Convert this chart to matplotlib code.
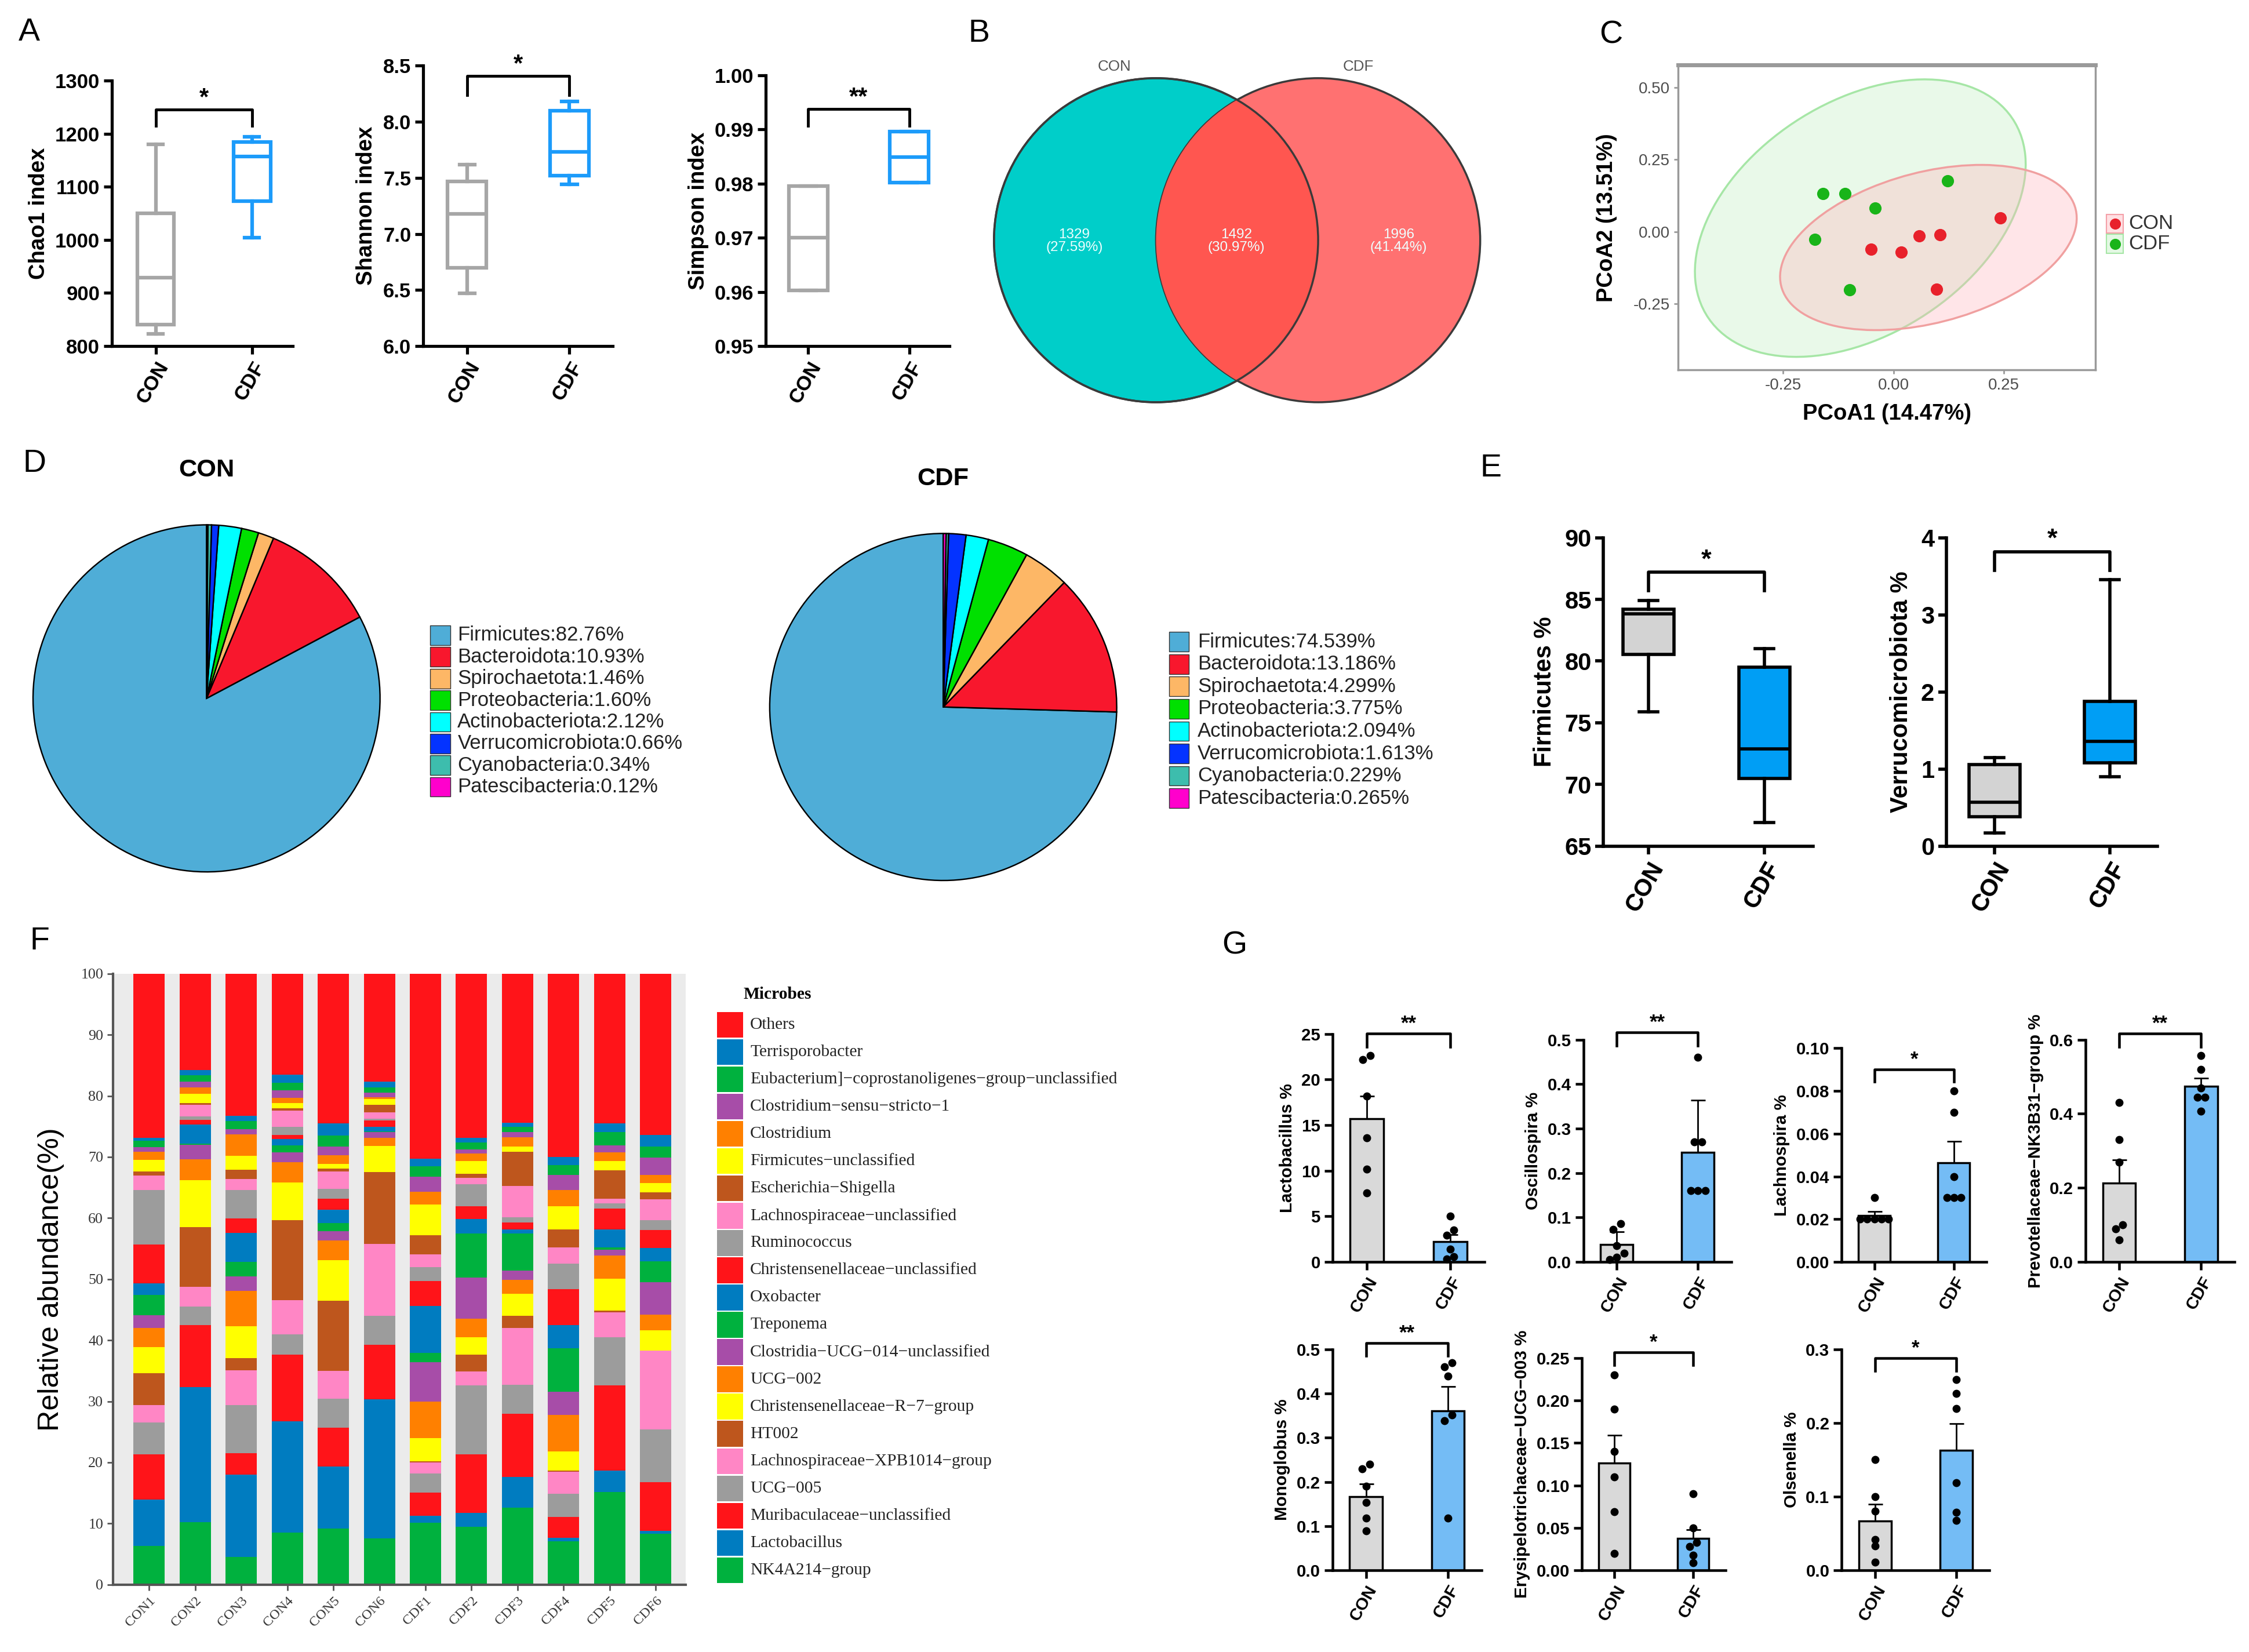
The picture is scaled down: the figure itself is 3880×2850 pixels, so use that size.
import matplotlib
matplotlib.use('Agg')
import matplotlib.pyplot as plt
import numpy as np
from matplotlib import font_manager
from matplotlib.patches import Circle, Ellipse, Rectangle

names = {f.name for f in font_manager.fontManager.ttflist}
SANS = 'Liberation Sans' if 'Liberation Sans' in names else 'DejaVu Sans'
NARROW = 'Liberation Sans Narrow' if 'Liberation Sans Narrow' in names else SANS
SERIF = 'Liberation Serif' if 'Liberation Serif' in names else 'DejaVu Serif'
plt.rcParams['font.family'] = SANS
plt.rcParams['axes.unicode_minus'] = False

# ---------------- data ----------------
groups = ['CON', 'CDF']

# A: box stats (whisker low, q1, median, q3, whisker high)
chao1_stats = [[823, 840, 929, 1050, 1180], [1004, 1073, 1157, 1185, 1194]]
shannon_stats = [[6.47, 6.70, 7.18, 7.47, 7.62], [7.44, 7.52, 7.73, 8.10, 8.18]]
simpson_stats = [[0.9603, 0.9603, 0.9700, 0.9795, 0.9795], [0.9802, 0.9802, 0.9849, 0.9896, 0.9896]]
chao1_ticks = [800, 900, 1000, 1100, 1200, 1300]
shannon_ticks = [6.0, 6.5, 7.0, 7.5, 8.0, 8.5]
simpson_ticks = [0.95, 0.96, 0.97, 0.98, 0.99, 1.00]

# B: Venn
venn_counts = [1329, 1492, 1996]
venn_pct = [27.59, 30.97, 41.44]

# C: PCoA
pcoa_con_x = [0.242, 0.058, 0.105, -0.051, 0.017, 0.097]
pcoa_con_y = [0.047, -0.014, -0.010, -0.061, -0.071, -0.199]
pcoa_cdf_x = [-0.159, -0.109, -0.041, 0.122, -0.178, -0.099]
pcoa_cdf_y = [0.133, 0.133, 0.081, 0.176, -0.027, -0.201]
ell_con = (0.079, -0.055, 0.734, 0.490, 33.0)     # centre x, centre y, width, height, angle
ell_cdf = (-0.075, 0.047, 1.038, 0.640, 61.7)

# D: phylum pies
phyla = ['Firmicutes', 'Bacteroidota', 'Spirochaetota', 'Proteobacteria',
         'Actinobacteriota', 'Verrucomicrobiota', 'Cyanobacteria', 'Patescibacteria']
pie_con = [82.76, 10.93, 1.46, 1.60, 2.12, 0.66, 0.34, 0.12]
pie_cdf = [74.539, 13.186, 4.299, 3.775, 2.094, 1.613, 0.229, 0.265]
pie_colors = ['#4FADD7', '#F8172D', '#FDB766', '#00E000', '#00FFFF', '#0433FF', '#3DBDAD', '#FF00CC']

# E: box stats
firm_stats = [[75.9, 80.55, 83.83, 84.2, 84.9], [66.9, 70.5, 72.9, 79.5, 81.0]]
verru_stats = [[0.17, 0.38, 0.57, 1.06, 1.15], [0.90, 1.08, 1.36, 1.88, 3.46]]
firm_ticks = [65, 70, 75, 80, 85, 90]
verru_ticks = [0, 1, 2, 3, 4]

# F: stacked genera, cumulative tops per sample (bottom taxon first)
samples = ['CON1', 'CON2', 'CON3', 'CON4', 'CON5', 'CON6',
           'CDF1', 'CDF2', 'CDF3', 'CDF4', 'CDF5', 'CDF6']
taxa = ['NK4A214−group', 'Lactobacillus', 'Muribaculaceae−unclassified', 'UCG−005',
        'Lachnospiraceae−XPB1014−group', 'HT002', 'Christensenellaceae−R−7−group', 'UCG−002',
        'Clostridia−UCG−014−unclassified', 'Treponema', 'Oxobacter',
        'Christensenellaceae−unclassified', 'Ruminococcus', 'Lachnospiraceae−unclassified',
        'Escherichia−Shigella', 'Firmicutes−unclassified', 'Clostridium',
        'Clostridium−sensu−stricto−1', 'Eubacterium]−coprostanoligenes−group−unclassified',
        'Terrisporobacter', 'Others']
stack_tops = [
    [6.3, 13.9, 21.3, 26.5, 29.4, 34.6, 38.9, 42.0, 44.1, 47.4, 49.3, 55.7, 64.6, 67.0, 67.6, 69.5, 70.9, 71.6, 72.7, 73.1, 100],
    [10.2, 32.3, 42.5, 45.5, 48.7, 58.5, 66.2, 69.6, 72.0, 72.2, 75.3, 76.1, 76.6, 78.5, 78.8, 80.3, 81.4, 82.3, 83.4, 84.2, 100],
    [4.5, 18.0, 21.5, 29.4, 35.1, 37.1, 42.3, 48.1, 50.5, 52.8, 57.6, 59.9, 64.6, 66.4, 67.9, 70.2, 73.7, 74.6, 75.9, 76.7, 100],
    [8.5, 26.7, 37.6, 41.0, 46.6, 59.7, 65.8, 69.1, 70.8, 71.9, 72.9, 73.6, 74.9, 77.6, 78.0, 78.8, 79.7, 80.9, 82.1, 83.5, 100],
    [9.2, 19.3, 25.7, 30.4, 35.0, 46.5, 53.1, 56.3, 57.9, 59.2, 61.4, 63.2, 64.8, 67.6, 68.1, 68.9, 70.3, 71.7, 73.5, 75.5, 100],
    [7.6, 30.3, 39.3, 44.0, 55.8, 67.5, 71.8, 73.1, 74.1, 74.2, 74.9, 76.0, 76.3, 77.3, 78.5, 79.5, 79.8, 80.5, 81.4, 82.3, 100],
    [10.1, 11.3, 15.1, 18.2, 20.0, 20.2, 24.0, 30.0, 36.4, 37.9, 45.6, 49.7, 52.0, 54.1, 57.2, 62.2, 64.3, 66.8, 68.5, 69.7, 100],
    [9.5, 11.7, 21.3, 32.6, 34.9, 37.6, 40.5, 43.5, 50.3, 57.5, 59.8, 61.9, 65.5, 66.6, 67.2, 69.3, 70.6, 71.2, 72.4, 73.1, 100],
    [12.6, 17.6, 28.0, 32.7, 42.0, 44.0, 47.6, 49.9, 51.4, 57.5, 58.1, 59.3, 60.1, 65.3, 70.9, 71.7, 73.2, 74.1, 74.9, 75.6, 100],
    [7.1, 7.7, 11.1, 14.9, 18.5, 18.7, 21.8, 27.8, 31.6, 38.7, 42.5, 48.4, 52.5, 55.2, 58.1, 61.9, 64.6, 67.1, 68.7, 70.0, 100],
    [15.2, 18.7, 32.6, 40.5, 44.6, 44.9, 50.1, 53.9, 54.8, 55.2, 58.1, 61.6, 62.4, 63.2, 67.8, 69.3, 70.8, 71.9, 74.1, 75.5, 100],
    [8.3, 8.8, 16.8, 25.4, 38.3, 38.3, 41.6, 44.2, 49.5, 52.9, 55.1, 58.0, 59.7, 63.1, 64.2, 65.7, 67.1, 69.9, 71.7, 73.6, 100],
]
f_colors = ['#00B13E', '#007CC0', '#FF1419', '#9C9C9C', '#FF86C5', '#BE561D', '#FFFF00', '#FF8000', '#A74DA8']
f_ticks = [0, 10, 20, 30, 40, 50, 60, 70, 80, 90, 100]

# G: genus bars (mean, sem) and individual points
lacto_mean, lacto_sem = [15.7, 2.26], [2.5, 0.74]
lacto_con = [22.2, 22.6, 18.2, 13.6, 10.2, 7.6]
lacto_cdf = [5.0, 3.5, 2.9, 1.4, 0.6, 0.3]
osc_mean, osc_sem = [0.039, 0.246], [0.029, 0.118]
osc_con = [0.086, 0.073, 0.037, 0.02, 0.01, 0.005]
osc_cdf = [0.46, 0.27, 0.27, 0.16, 0.16, 0.16]
lachno_mean, lachno_sem = [0.0216, 0.0465], [0.0021, 0.010]
lachno_con = [0.030, 0.020, 0.020, 0.020, 0.020, 0.020]
lachno_cdf = [0.080, 0.070, 0.040, 0.030, 0.030, 0.030]
prevo_mean, prevo_sem = [0.213, 0.474], [0.063, 0.022]
prevo_con = [0.43, 0.33, 0.27, 0.10, 0.09, 0.06]
prevo_cdf = [0.557, 0.519, 0.47, 0.445, 0.445, 0.407]
mono_mean, mono_sem = [0.166, 0.361], [0.029, 0.055]
mono_con = [0.23, 0.24, 0.19, 0.154, 0.118, 0.089]
mono_cdf = [0.461, 0.47, 0.44, 0.352, 0.339, 0.118]
erys_mean, erys_sem = [0.126, 0.0376], [0.033, 0.0104]
erys_con = [0.23, 0.19, 0.14, 0.11, 0.069, 0.02]
erys_cdf = [0.09, 0.05, 0.033, 0.028, 0.018, 0.009]
olsen_mean, olsen_sem = [0.067, 0.163], [0.0226, 0.036]
olsen_con = [0.15, 0.10, 0.08, 0.042, 0.033, 0.011]
olsen_cdf = [0.259, 0.24, 0.22, 0.119, 0.079, 0.068]

# ---------------- figure ----------------
W, H = 1568, 1152
fig = plt.figure(figsize=(15.52, 11.4), dpi=250)


def place(x0, y0, x1, y1):
    return fig.add_axes([x0 / W, 1 - y1 / H, (x1 - x0) / W, (y1 - y0) / H])


def prism(ax, ylim, yticks, fmt, xlim, fs=10, lw=1.5, xfs=10):
    ax.set_xlim(*xlim)
    ax.set_ylim(*ylim)
    for s in ('top', 'right'):
        ax.spines[s].set_visible(False)
    for s in ('left', 'bottom'):
        ax.spines[s].set_linewidth(lw)
    ax.set_yticks(yticks)
    ax.set_yticklabels([fmt % t for t in yticks], fontsize=fs, family=NARROW, fontweight='bold')
    ax.set_xticks([0, 1])
    ax.set_xticklabels(groups, rotation=60, ha='right', rotation_mode='anchor',
                       fontweight='bold', fontsize=xfs)
    ax.tick_params(width=lw, length=4, pad=2)
    ax.patch.set_alpha(0)


def boxes(ax, stats, edge, face, width, lw, capw):
    st = [dict(whislo=s[0], q1=s[1], med=s[2], q3=s[3], whishi=s[4]) for s in stats]
    art = ax.bxp(st, positions=[0, 1], widths=width, showfliers=False, patch_artist=True,
                 capwidths=capw, manage_ticks=False)
    for i in range(2):
        art['boxes'][i].set(facecolor=face[i], edgecolor=edge[i], linewidth=lw)
        art['medians'][i].set(color=edge[i], linewidth=lw)
        for j in (2 * i, 2 * i + 1):
            art['whiskers'][j].set(color=edge[i], linewidth=lw)
            art['caps'][j].set(color=edge[i], linewidth=lw)


def bracket(ax, y, yl, yr, label, fs=12, lw=1.4):
    ax.plot([0, 0, 1, 1], [yl, y, y, yr], color='k', lw=lw, clip_on=False)
    ax.text(0.5, y, label, ha='center', va='bottom', fontsize=fs, fontweight='bold', clip_on=False)


# ---- A
a_edge = ['#A6A6A6', '#1C9BFA']
axA1 = place(78, 56.3, 204, 241.3)
boxes(axA1, chao1_stats, a_edge, ['none', 'none'], 0.38, 1.8, 0.15)
prism(axA1, (800, 1300), chao1_ticks, '%d', (-0.455, 1.42))
axA1.set_ylabel('Chao1 index', fontsize=11, fontweight='bold', labelpad=3)
bracket(axA1, 1246, 1215, 1215, '*')

axA2 = place(295, 45.8, 427, 241.3)
boxes(axA2, shannon_stats, a_edge, ['none', 'none'], 0.38, 1.8, 0.15)
prism(axA2, (6.0, 8.5), shannon_ticks, '%.1f', (-0.43, 1.42))
axA2.set_ylabel('Shannon index', fontsize=11, fontweight='bold', labelpad=3)
bracket(axA2, 8.41, 8.24, 8.24, '*')

axA3 = place(534, 52.5, 662, 241.3)
boxes(axA3, simpson_stats, a_edge, ['none', 'none'], 0.38, 1.8, 0.15)
prism(axA3, (0.95, 1.0), simpson_ticks, '%.2f', (-0.42, 1.40))
axA3.set_ylabel('Simpson index', fontsize=11, fontweight='bold', labelpad=3)
bracket(axA3, 0.9938, 0.9907, 0.9907, '**')

# ---- B Venn
axB = place(680, 30, 1045, 300)
axB.set_xlim(680, 1045)
axB.set_ylim(300, 30)
axB.axis('off')
c_con = Circle((806, 167.5), 113, facecolor='#00CEC9', edgecolor='#3A3A3A', lw=1.0, zorder=1)
c_cdf = Circle((919, 167.5), 113, facecolor='#FF7171', edgecolor='#3A3A3A', lw=1.0, zorder=2)
axB.add_patch(c_con)
axB.add_patch(c_cdf)
c_mid = Circle((919, 167.5), 113, facecolor='#FF5650', edgecolor='none', zorder=3)
axB.add_patch(c_mid)
c_mid.set_clip_path(c_con)
c_line = Circle((806, 167.5), 113, facecolor='none', edgecolor='#3A3A3A', lw=1.0, zorder=4)
axB.add_patch(c_line)
for xx, n, p in zip([749, 862, 975], venn_counts, venn_pct):
    axB.text(xx, 168, f'{n}\n({p:.2f}%)', ha='center', va='center', fontsize=7,
             family=NARROW, color='#EFFFFF', linespacing=1.0, zorder=5)
axB.text(777, 46.5, 'CON', ha='center', va='center', fontsize=7.5, family=NARROW, color='#555555')
axB.text(947, 46.5, 'CDF', ha='center', va='center', fontsize=7.5, family=NARROW, color='#555555')

# ---- C PCoA
axC = place(1170, 45.4, 1461, 258)
axC.set_xlim(-0.487, 0.457)
axC.set_ylim(-0.480, 0.578)
ex, ey, ew, eh, ea = ell_cdf
axC.add_patch(Ellipse((ex, ey), ew, eh, angle=ea, facecolor='#9BE89B', alpha=0.22, edgecolor='none'))
axC.add_patch(Ellipse((ex, ey), ew, eh, angle=ea, facecolor='none', edgecolor='#A6E6A6', lw=1.0))
ex, ey, ew, eh, ea = ell_con
axC.add_patch(Ellipse((ex, ey), ew, eh, angle=ea, facecolor='#FFB3BA', alpha=0.33, edgecolor='none'))
axC.add_patch(Ellipse((ex, ey), ew, eh, angle=ea, facecolor='none', edgecolor='#F0A0A0', lw=1.0))
axC.scatter(pcoa_con_x, pcoa_con_y, s=26, color='#E8212B', zorder=3)
axC.scatter(pcoa_cdf_x, pcoa_cdf_y, s=26, color='#19B419', zorder=3)
for s in axC.spines.values():
    s.set_color('#9A9A9A')
    s.set_linewidth(1.0)
axC.spines['top'].set_linewidth(2.0)
axC.set_xticks([-0.25, 0.0, 0.25])
axC.set_xticklabels(['-0.25', '0.00', '0.25'], fontsize=8, family=NARROW, color='#4D4D4D')
axC.set_yticks([-0.25, 0.0, 0.25, 0.50])
axC.set_yticklabels(['-0.25', '0.00', '0.25', '0.50'], fontsize=8, family=NARROW, color='#4D4D4D')
axC.tick_params(length=2, color='#9A9A9A', pad=2)
axC.set_xlabel('PCoA1 (14.47%)', fontsize=11, fontweight='bold', labelpad=5)
axC.set_ylabel('PCoA2 (13.51%)', fontsize=11, fontweight='bold', labelpad=8)

# ---- D pies
r = 121 * 1.01
for cx, cy, vals in [(144, 487, pie_con), (657.6, 493, pie_cdf)]:
    ax = place(cx - r, cy - r, cx + r, cy + r)
    ax.pie(vals, colors=pie_colors, startangle=90, counterclock=True,
           wedgeprops=dict(edgecolor='k', linewidth=0.7))
    ax.set_xlim(-1.01, 1.01)
    ax.set_ylim(-1.01, 1.01)

# ---- E
e_edge = ['k', 'k']
e_face = ['#D3D3D3', '#009EF5']
axE1 = place(1118, 375, 1264, 590)
boxes(axE1, firm_stats, e_edge, e_face, 0.44, 1.6, 0.16)
prism(axE1, (65, 90), firm_ticks, '%d', (-0.385, 1.42), fs=12, lw=1.6, xfs=12)
axE1.set_ylabel('Firmicutes %', fontsize=12, fontweight='bold', labelpad=4)
bracket(axE1, 87.2, 85.7, 85.7, '*', fs=13, lw=1.6)

axE2 = place(1357, 375, 1504, 590)
boxes(axE2, verru_stats, e_edge, e_face, 0.44, 1.6, 0.16)
prism(axE2, (0, 4), verru_ticks, '%d', (-0.416, 1.41), fs=12, lw=1.6, xfs=12)
axE2.set_ylabel('Verrucomicrobiota %', fontsize=12, fontweight='bold', labelpad=4)
bracket(axE2, 3.82, 3.58, 3.58, '*', fs=13, lw=1.6)

# ---- F stacked bars
axF = place(79, 679, 478, 1105)
axF.set_facecolor('#EBEBEB')
xpos = np.arange(len(samples))
tops = np.array(stack_tops)
bottoms = np.zeros(len(samples))
for i, name in enumerate(taxa):
    seg = tops[:, i] - bottoms
    axF.bar(xpos, seg, bottom=bottoms, width=0.68, color=f_colors[i % 9], edgecolor='none')
    bottoms = tops[:, i]
axF.set_xlim(-0.78, 11.65)
axF.set_ylim(0, 100)
for s in ('top', 'right'):
    axF.spines[s].set_visible(False)
for s in ('left', 'bottom'):
    axF.spines[s].set_color('#555555')
    axF.spines[s].set_linewidth(1.2)
axF.set_yticks(f_ticks)
axF.set_yticklabels([str(t) for t in f_ticks], fontsize=7.5, family=SERIF, color='#333333')
axF.set_xticks(xpos)
axF.set_xticklabels(samples, rotation=45, ha='right', rotation_mode='anchor',
                    fontsize=7, family=SERIF, color='#333333')
axF.tick_params(length=3, color='#555555', pad=2)
axF.set_ylabel('Relative abundance(%)', fontsize=14.5, labelpad=8)


# ---- G bars
def spread(vals, span, step=0.09):
    vals = np.asarray(vals, float)
    order = np.argsort(vals)
    offs = np.zeros(len(vals))
    clusters = [[order[0]]]
    for k in order[1:]:
        if vals[k] - vals[clusters[-1][-1]] < span:
            clusters[-1].append(k)
        else:
            clusters.append([k])
    for c in clusters:
        n = len(c)
        for j, k in enumerate(c):
            offs[k] = (j - (n - 1) / 2) * step
    return offs


def gpanel(box_px, ymax, yticks, fmt, mean, sem, con, cdf, label, sig, brk):
    ax = place(*box_px)
    ax.bar([0, 1], mean, width=0.4, color=['#D9D9D9', '#74BCF5'], edgecolor='k',
           linewidth=1.0, zorder=2)
    ax.errorbar([0, 1], mean, yerr=[[0, 0], sem], fmt='none', ecolor='k', elinewidth=0.8,
                capsize=3.6, capthick=0.8, zorder=1.5)
    for xc, pts in ((0, con), (1, cdf)):
        ox = spread(pts, 0.03 * ymax)
        ax.scatter(xc + ox, pts, s=9, color='k', zorder=3, clip_on=False)
    prism(ax, (0, ymax), yticks, fmt, (-0.41, 1.41), fs=8.5, lw=1.3, xfs=8.5)
    ax.set_ylabel(label, fontsize=8.5, fontweight='bold', labelpad=3)
    bracket(ax, brk[0], brk[1], brk[1], sig, fs=10, lw=1.3)
    return ax


gpanel((929, 721, 1035, 880), 25, [0, 5, 10, 15, 20, 25], '%d', lacto_mean, lacto_sem,
       lacto_con, lacto_cdf, 'Lactobacillus %', '**', (25.06, 23.56))
gpanel((1104, 725, 1207, 880), 0.5, [0.0, 0.1, 0.2, 0.3, 0.4, 0.5], '%.1f', osc_mean, osc_sem,
       osc_con, osc_cdf, 'Oscillospira %', '**', (0.5165, 0.486))
gpanel((1284, 731, 1385, 880), 0.10, [0.0, 0.02, 0.04, 0.06, 0.08, 0.10], '%.2f', lachno_mean,
       lachno_sem, lachno_con, lachno_cdf, 'Lachnospira %', '*', (0.0902, 0.0845))
gpanel((1454, 725, 1558, 880), 0.6, [0.0, 0.2, 0.4, 0.6], '%.1f', prevo_mean, prevo_sem,
       prevo_con, prevo_cdf, 'Prevotellaceae−NK3B31−group %', '**', (0.617, 0.58))
gpanel((929, 941, 1033, 1095), 0.5, [0.0, 0.1, 0.2, 0.3, 0.4, 0.5], '%.1f', mono_mean, mono_sem,
       mono_con, mono_cdf, 'Monoglobus %', '**', (0.515, 0.485))
gpanel((1103, 947, 1203, 1095), 0.25, [0.0, 0.05, 0.10, 0.15, 0.20, 0.25], '%.2f', erys_mean,
       erys_sem, erys_con, erys_cdf, 'Erysipelotrichaceae−UCG−003 %', '*', (0.257, 0.242))
gpanel((1284, 941, 1387, 1095), 0.3, [0.0, 0.1, 0.2, 0.3], '%.1f', olsen_mean, olsen_sem,
       olsen_con, olsen_cdf, 'Olsenella %', '*', (0.288, 0.271))

# ---- overlay: legends, titles, panel letters
ov = fig.add_axes([0, 0, 1, 1])
ov.set_xlim(0, W)
ov.set_ylim(H, 0)
ov.axis('off')

for lx, tx, y0, step, vals, fmt in [(300, 319, 443, 15.1, pie_con, '%.2f'),
                                    (815, 835, 447.5, 15.6, pie_cdf, '%.3f')]:
    for k, (name, col) in enumerate(zip(phyla, pie_colors)):
        y = y0 + k * step
        ov.add_patch(Rectangle((lx, y - 6.8), 14, 13.6, facecolor=col, edgecolor='#333333', lw=0.4))
        ov.text(tx, y, name + ':' + (fmt % vals[k]) + '%', va='center', fontsize=10,
                family=NARROW, color='#222222')
ov.text(144, 328, 'CON', ha='center', va='center', fontsize=12.5, fontweight='bold', family=NARROW)
ov.text(657.6, 334, 'CDF', ha='center', va='center', fontsize=12.5, fontweight='bold', family=NARROW)

ov.text(542, 693.5, 'Microbes', ha='center', va='center', fontsize=8.5, fontweight='bold', family=SERIF)
n_t = len(taxa)
for k in range(n_t):
    i = n_t - 1 - k
    y = 714.6 + k * 19.02
    ov.add_patch(Rectangle((500, y - 9.0), 18, 18.0, facecolor=f_colors[i % 9], edgecolor='none'))
    ov.text(523, y, taxa[i], va='center', fontsize=8.5, family=SERIF, color='#222222')

for k, (lab, col, bg, ed) in enumerate([('CON', '#E8212B', '#FFE0E3', '#F4A0A8'),
                                         ('CDF', '#19B419', '#E3F8E3', '#A6E6A6')]):
    y = 156 + k * 14
    ov.add_patch(Rectangle((1468.5, y - 6.5), 12, 13, facecolor=bg, edgecolor=ed, lw=0.6))
    ov.plot(1474.5, y, 'o', color=col, ms=4.5)
    ov.text(1484, y, lab, va='center', fontsize=10, family=NARROW, color='#333333')

for lab, x, y in [('A', 13, 12), ('B', 675, 13), ('C', 1115, 14), ('D', 16, 313),
                  ('E', 1032, 316), ('F', 21, 646), ('G', 852, 649)]:
    ov.text(x, y, lab, ha='left', va='top', fontsize=16)

fig.savefig('out.png', dpi=250)
